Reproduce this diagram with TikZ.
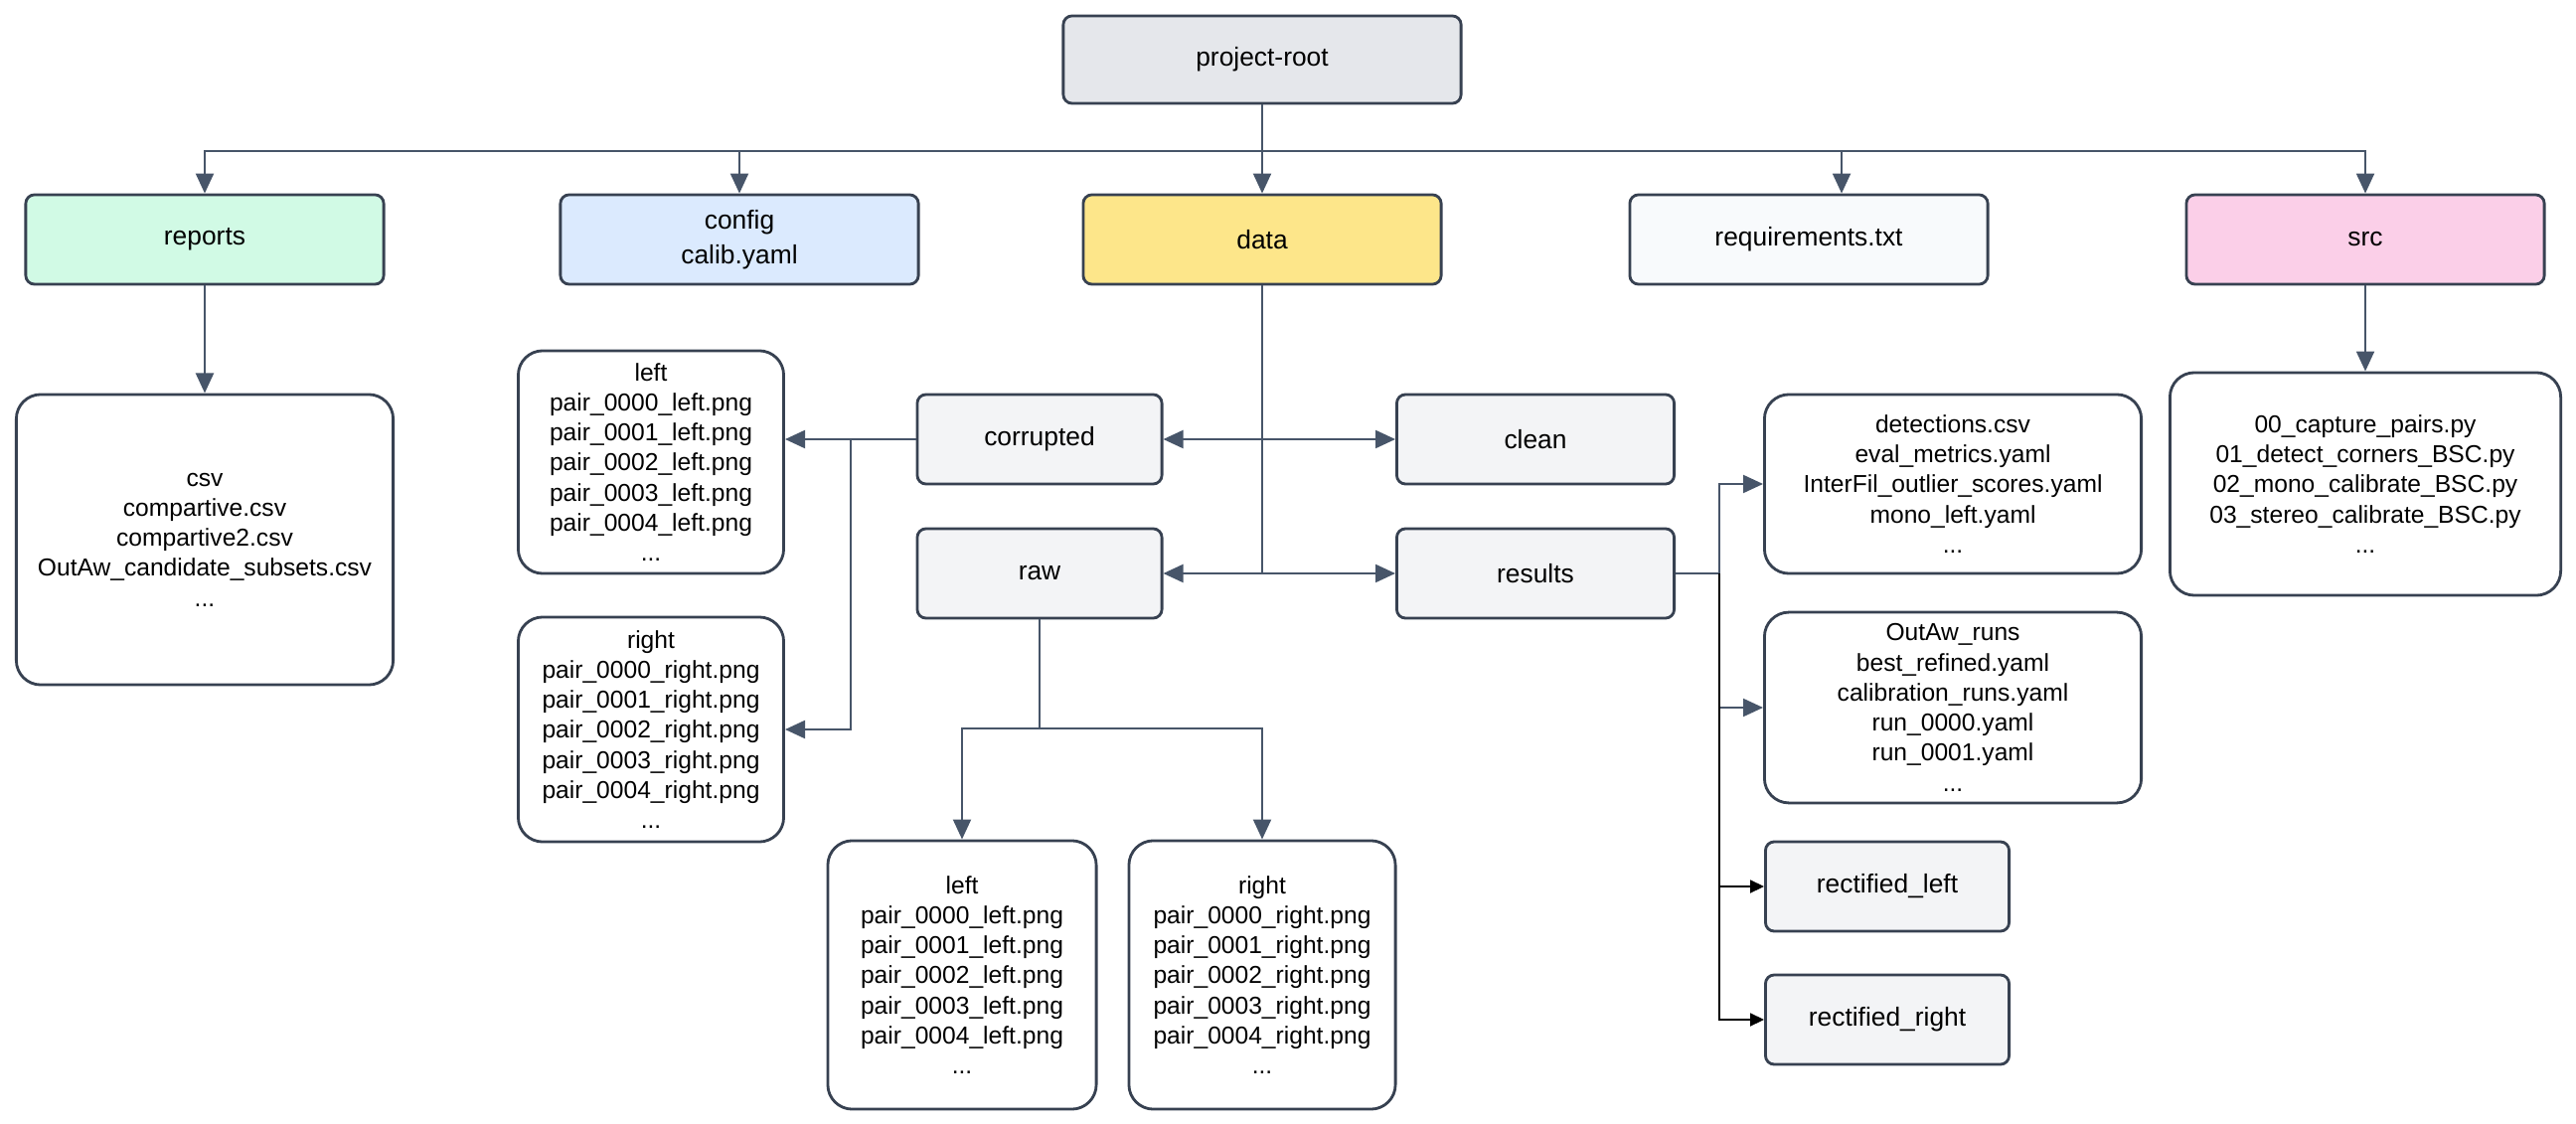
\documentclass[tikz,border=0pt]{standalone}
\usepackage{fontspec}
\setmainfont{Liberation Sans}
\usepackage{tikz}
\usetikzlibrary{arrows.meta}
\definecolor{rootfill}{HTML}{E5E7EB}
\definecolor{repfill}{HTML}{D1FAE5}
\definecolor{cfgfill}{HTML}{DBEAFE}
\definecolor{datafill}{HTML}{FDE68A}
\definecolor{reqfill}{HTML}{F8FAFC}
\definecolor{srcfill}{HTML}{FBCFE8}
\definecolor{dirfill}{HTML}{F3F4F6}
\definecolor{edgecol}{HTML}{374151}
\definecolor{linkcol}{HTML}{475569}
\begin{document}
\begin{tikzpicture}[x=0.01cm,y=-0.01cm,>={Triangle[length=2mm,width=1.8mm]},
  box/.style={draw=edgecol,line width=0.8pt,rounded corners=2.5pt,minimum width=3.6cm,minimum height=0.9cm,align=center,font=\fontsize{7.5}{10}\selectfont},
  dirbox/.style={box,fill=dirfill},
  list/.style={draw=edgecol,line width=0.8pt,rounded corners=7pt,fill=white,align=center,font=\fontsize{7}{8.6}\selectfont},
  arr/.style={->,draw=linkcol,line width=0.6pt},
  arrk/.style={-{Triangle[length=1.4mm,width=1.3mm]},black,line width=0.5pt}]
\useasboundingbox (0,0) rectangle (2592,1131);
\node[box,fill=rootfill,minimum width=4cm,minimum height=0.88cm] (root) at (1270,60) {project-root};
\node[box,fill=repfill] (reports) at (206,241) {reports};
\node[box,fill=cfgfill] (config) at (744,241) {config\\calib.yaml};
\node[box,fill=datafill] (data) at (1270,241) {data};
\node[box,fill=reqfill] (req) at (1820,241) {requirements.txt};
\node[box,fill=srcfill] (src) at (2380,241) {src};
\node[list,minimum width=3.79cm,minimum height=2.92cm] (replist) at (206,543) {csv\\compartive.csv\\compartive2.csv\\OutAw\_candidate\_subsets.csv\\...};
\node[list,minimum width=2.67cm,minimum height=2.24cm] (corrleft) at (655,465) {left\\pair\_0000\_left.png\\pair\_0001\_left.png\\pair\_0002\_left.png\\pair\_0003\_left.png\\pair\_0004\_left.png\\...};
\node[list,minimum width=2.67cm,minimum height=2.26cm] (corrright) at (655,734) {right\\pair\_0000\_right.png\\pair\_0001\_right.png\\pair\_0002\_right.png\\pair\_0003\_right.png\\pair\_0004\_right.png\\...};
\node[dirbox,minimum width=2.46cm] (corrupted) at (1046,442) {corrupted};
\node[dirbox,minimum width=2.46cm] (raw) at (1046,577) {raw};
\node[dirbox,minimum width=2.79cm] (clean) at (1545,442) {clean};
\node[dirbox,minimum width=2.79cm] (results) at (1545,577) {results};
\node[list,minimum width=2.7cm,minimum height=2.7cm] (rawleft) at (968,981) {left\\pair\_0000\_left.png\\pair\_0001\_left.png\\pair\_0002\_left.png\\pair\_0003\_left.png\\pair\_0004\_left.png\\...};
\node[list,minimum width=2.68cm,minimum height=2.7cm] (rawright) at (1270,981) {right\\pair\_0000\_right.png\\pair\_0001\_right.png\\pair\_0002\_right.png\\pair\_0003\_right.png\\pair\_0004\_right.png\\...};
\node[list,minimum width=3.79cm,minimum height=1.8cm] (detect) at (1965,487) {detections.csv\\eval\_metrics.yaml\\InterFil\_outlier\_scores.yaml\\mono\_left.yaml\\...};
\node[list,minimum width=3.79cm,minimum height=1.81cm] (outaw) at (1965,712) {OutAw\_runs\\best\_refined.yaml\\calibration\_runs.yaml\\run\_0000.yaml\\run\_0001.yaml\\...};
\node[dirbox,minimum width=2.45cm] (rectleft) at (1899,892) {rectified\_left};
\node[dirbox,minimum width=2.45cm] (rectright) at (1899,1026) {rectified\_right};
\node[list,minimum width=3.93cm,minimum height=2.24cm] (srclist) at (2380,487) {00\_capture\_pairs.py\\01\_detect\_corners\_BSC.py\\02\_mono\_calibrate\_BSC.py\\03\_stereo\_calibrate\_BSC.py\\...};
\coordinate (bus) at (1270,152);
\coordinate (corrfork) at (856,442);
\coordinate (rawfork) at (1046,733);
\coordinate (resfork) at (1730,577);
\foreach \n in {reports,config,data,src}
  \draw[arr] (root.south) -- (bus) -| (\n.north);
\draw[arr] (root.south) -- (bus) -| ([xshift=0.33cm]req.north);
\draw[arr] (reports.south) -- (replist.north);
\draw[arr] (src.south) -- (srclist.north);
\draw[arr] (data.south) |- (corrupted.east);
\draw[arr] (data.south) |- (clean.west);
\draw[arr] (data.south) |- (raw.east);
\draw[arr] (data.south) |- (results.west);
\draw[arr] (corrupted.west) -- (corrupted.west -| corrleft.east);
\draw[arr] (corrupted.west) -- (corrfork) |- (corrright.east);
\draw[arr] (raw.south) -- (rawfork) -| (rawleft.north);
\draw[arr] (rawfork) -| (rawright.north);
\draw[arr] (results.east) -- (resfork) |- (detect.west);
\draw[arr] (resfork) |- (outaw.west);
\draw[arrk] (resfork) |- (rectleft.west);
\draw[arrk] (resfork) |- (rectright.west);
\end{tikzpicture}
\end{document}
